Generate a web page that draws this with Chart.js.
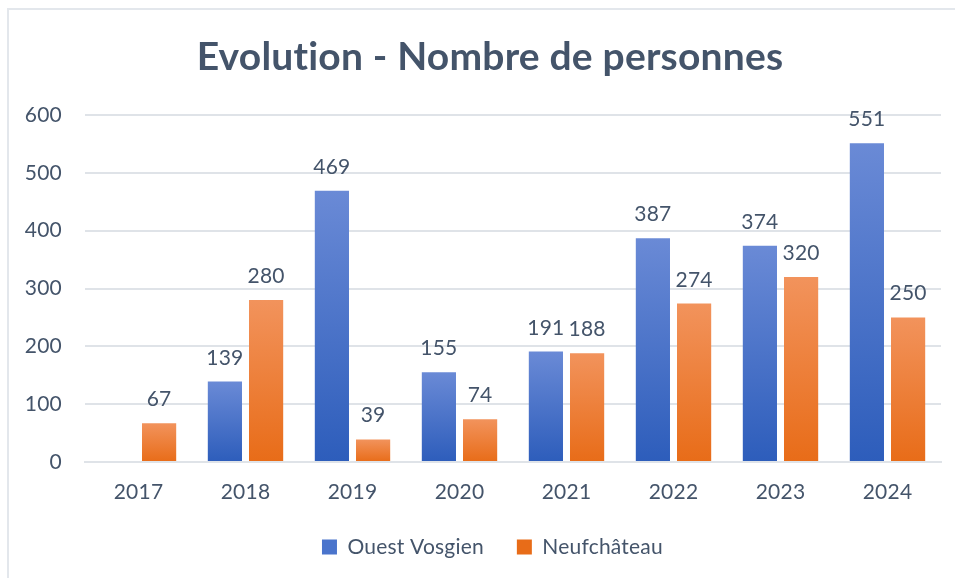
<!DOCTYPE html>
<html lang="fr">
<head>
    <meta charset="UTF-8">
    <title>Evolution - Nombre de personnes</title>
    <script src="https://cdn.jsdelivr.net/npm/chart.js"></script>
    <style>
        html, body { margin: 0; padding: 0; background: #fff; overflow: hidden; }
        #frame {
            position: absolute; left: 7px; top: 8px; width: 960px; height: 580px;
            border-top: 2px solid #e3e7ec; border-left: 2px solid #e3e7ec;
        }
        #wrap { position: absolute; left: 8px; top: 0; width: 964px; height: 600px; }
    </style>
</head>
<body>
    <div id="frame"></div>
    <div id="wrap"><canvas id="evoChart"></canvas></div>

    <script>
        var chartTitle = 'Evolution - Nombre de personnes';
        var years = ['2017', '2018', '2019', '2020', '2021', '2022', '2023', '2024'];
        var ouestVosgien = [null, 139, 469, 155, 191, 387, 374, 551];
        var neufchateau = [67, 280, 39, 74, 188, 274, 320, 250];
        var yTicks = [0, 100, 200, 300, 400, 500, 600];

        var textColor = '#44546A';
        var gridColor = '#dfe3e8';
        var fontName = 'Lato';

        // vertical gradient per bar, lighter at top like the Office fill
        function barFill(top, bottom, solid) {
            return function(ctx) {
                var chart = ctx.chart;
                if (ctx.dataIndex === undefined || !chart.chartArea || !chart.scales.y) return solid;
                var v = ctx.raw;
                if (v === null || v === undefined) return solid;
                var yTop = chart.scales.y.getPixelForValue(v);
                var yBot = chart.scales.y.getPixelForValue(0);
                if (!isFinite(yTop) || yBot - yTop < 1) return solid;
                var g = chart.ctx.createLinearGradient(0, yTop, 0, yBot);
                g.addColorStop(0, top);
                g.addColorStop(1, bottom);
                return g;
            };
        }

        // tiny letter spacing keeps Lato from using its "ti" ligature
        var noLigatures = {
            id: 'noLigatures',
            beforeDraw: function(chart) { chart.ctx.letterSpacing = '0.2px'; }
        };

        // legend centred on the whole frame like the title
        var centerLegend = {
            id: 'centerLegend',
            afterLayout: function(chart) {
                var l = chart.legend;
                if (!l) return;
                var dx = chart.width / 2 - (l.left + l.right) / 2;
                l.left += dx;
                l.right += dx;
            }
        };

        // title centred on the whole frame, not on the padded layout box
        var frameTitle = {
            id: 'frameTitle',
            afterDraw: function(chart) {
                var c = chart.ctx;
                c.save();
                c.font = 'bold 39px ' + fontName;
                c.fillStyle = textColor;
                c.textAlign = 'center';
                c.textBaseline = 'middle';
                c.fillText(chartTitle, chart.width / 2, 57);
                c.restore();
            }
        };

        var valueLabels = {
            id: 'valueLabels',
            afterDatasetsDraw: function(chart) {
                var c = chart.ctx;
                c.save();
                c.font = '21px ' + fontName;
                c.fillStyle = textColor;
                c.textAlign = 'center';
                c.textBaseline = 'alphabetic';
                chart.data.datasets.forEach(function(ds, i) {
                    var meta = chart.getDatasetMeta(i);
                    meta.data.forEach(function(bar, j) {
                        var v = ds.data[j];
                        if (v === null || v === undefined) return;
                        c.fillText(String(v), bar.x, bar.y - 17);
                    });
                });
                c.restore();
            }
        };

        Chart.defaults.font.family = fontName;
        Chart.defaults.color = textColor;

        var ctx = document.getElementById('evoChart').getContext('2d');
        new Chart(ctx, {
            type: 'bar',
            data: {
                labels: years,
                datasets: [{
                    label: 'Ouest Vosgien',
                    data: ouestVosgien,
                    backgroundColor: barFill('#6a8ad6', '#2d5dbb', '#4a74cc'),
                    barPercentage: 0.83,
                    categoryPercentage: 0.77
                }, {
                    label: 'Neufchâteau',
                    data: neufchateau,
                    backgroundColor: barFill('#f2935c', '#e86c18', '#ee7d33'),
                    barPercentage: 0.83,
                    categoryPercentage: 0.77
                }]
            },
            options: {
                responsive: true,
                maintainAspectRatio: false,
                animation: false,
                layout: { padding: { left: 0, right: 31, top: 115, bottom: 32.5 } },
                plugins: {
                    title: { display: false },
                    legend: {
                        position: 'bottom',
                        labels: {
                            boxWidth: 15,
                            boxHeight: 15,
                            padding: 33,
                            color: textColor,
                            font: { size: 21, family: fontName }
                        }
                    },
                    tooltip: { enabled: false }
                },
                scales: {
                    x: {
                        grid: { display: false, drawTicks: false },
                        border: { color: gridColor, width: 2 },
                        ticks: { padding: 18, color: textColor, font: { size: 21 } },
                        afterFit: function(s) { s.height = 41.5; }
                    },
                    y: {
                        min: 0,
                        max: 600,
                        afterBuildTicks: function(s) { s.ticks = yTicks.map(function(v) { return { value: v }; }); },
                        grid: { color: gridColor, lineWidth: 2, drawTicks: false },
                        border: { display: false },
                        ticks: { padding: 23, color: textColor, font: { size: 21 } },
                        afterFit: function(s) { s.width = 77; }
                    }
                }
            },
            plugins: [noLigatures, centerLegend, frameTitle, valueLabels]
        });
    </script>
</body>
</html>
